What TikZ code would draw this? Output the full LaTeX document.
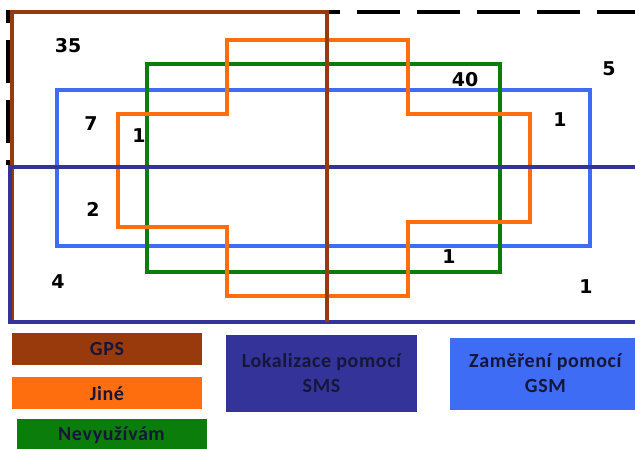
\documentclass[tikz,border=0pt]{standalone}
\usepackage{fontspec}
\setmainfont{Carlito}
\newfontfamily\legfont[LetterSpace=3]{Carlito}
\newfontfamily\numfont{DejaVu Sans}
\usetikzlibrary{positioning}

\definecolor{gpsbrown}{HTML}{993A0C}
\definecolor{jineorange}{HTML}{FF6E0E}
\definecolor{nevgreen}{HTML}{0B7D0B}
\definecolor{smsnavy}{HTML}{343399}
\definecolor{gsmblue}{HTML}{3F6CF5}
\definecolor{legtext}{HTML}{15163A}

\begin{document}
\begin{tikzpicture}[x=1pt, y=-1pt,
  setline/.style={line width=4.5pt, draw=#1},
  legbox/.style={fill=#1, minimum width=190pt, minimum height=32pt, inner sep=0pt,
                 font=\legfont\bfseries\fontsize{20}{25}\selectfont, text=legtext, align=center},
  count/.style={font=\numfont\bfseries\fontsize{19}{22}\selectfont, inner sep=0pt},
]
  \useasboundingbox[fill=white] (0,0) rectangle (635,448);

  % outer set, only partly visible
  \draw[line width=4pt, dash pattern=on 43pt off 17pt, dash phase=38pt]
    (8,165) -- (8,12) -- (640,12);

  % the sets
  \draw[setline=gpsbrown] (12,12) rectangle (327,322);
  \draw[setline=gsmblue] (57,90) rectangle (590,246);
  \draw[setline=nevgreen] (147,64) rectangle (500,272);
  \draw[setline=jineorange] (227,40) -- (408,40) -- (408,114) -- (530,114) -- (530,222)
    -- (408,222) -- (408,296) -- (227,296) -- (227,227) -- (118,227) -- (118,114)
    -- (227,114) -- cycle;
  \draw[setline=smsnavy] (10,167) rectangle (650,322);
  \draw[setline=gpsbrown] (327,12) -- (327,322);

  % counts
  \node[count] (n35) at (68,46) {35};
  \node[count] (n40) at (465,80) {40};
  \node[count] (n5) at (609,69) {5};
  \node[count] (n7) at (91,124) {7};
  \node[count] (n1a) at (139,136) {1};
  \node[count] (n1b) at (560,120) {1};
  \node[count] (n2) at (93,209) {2};
  \node[count] (n4) at (58,282) {4};
  \node[count] (n1c) at (449,257) {1};
  \node[count] (n1d) at (586,287) {1};

  % legend
  \node[legbox=gpsbrown] (gps) at (107,349) {GPS};
  \node[legbox=jineorange, below=12pt of gps] (jine) {Jiné};
  \node[legbox=nevgreen, minimum height=33pt, below=9pt of jine, xshift=4.5pt] (nev) {Nevyužívám};
  \node[legbox=smsnavy, minimum height=77pt, minimum width=191pt] (sms) at (321.5,373.5)
    {Lokalizace pomocí\\SMS};
  \node[legbox=gsmblue, minimum height=72pt, right=33pt of sms.east, anchor=west] (gsm)
    {Zaměření pomocí\\GSM};
\end{tikzpicture}
\end{document}
